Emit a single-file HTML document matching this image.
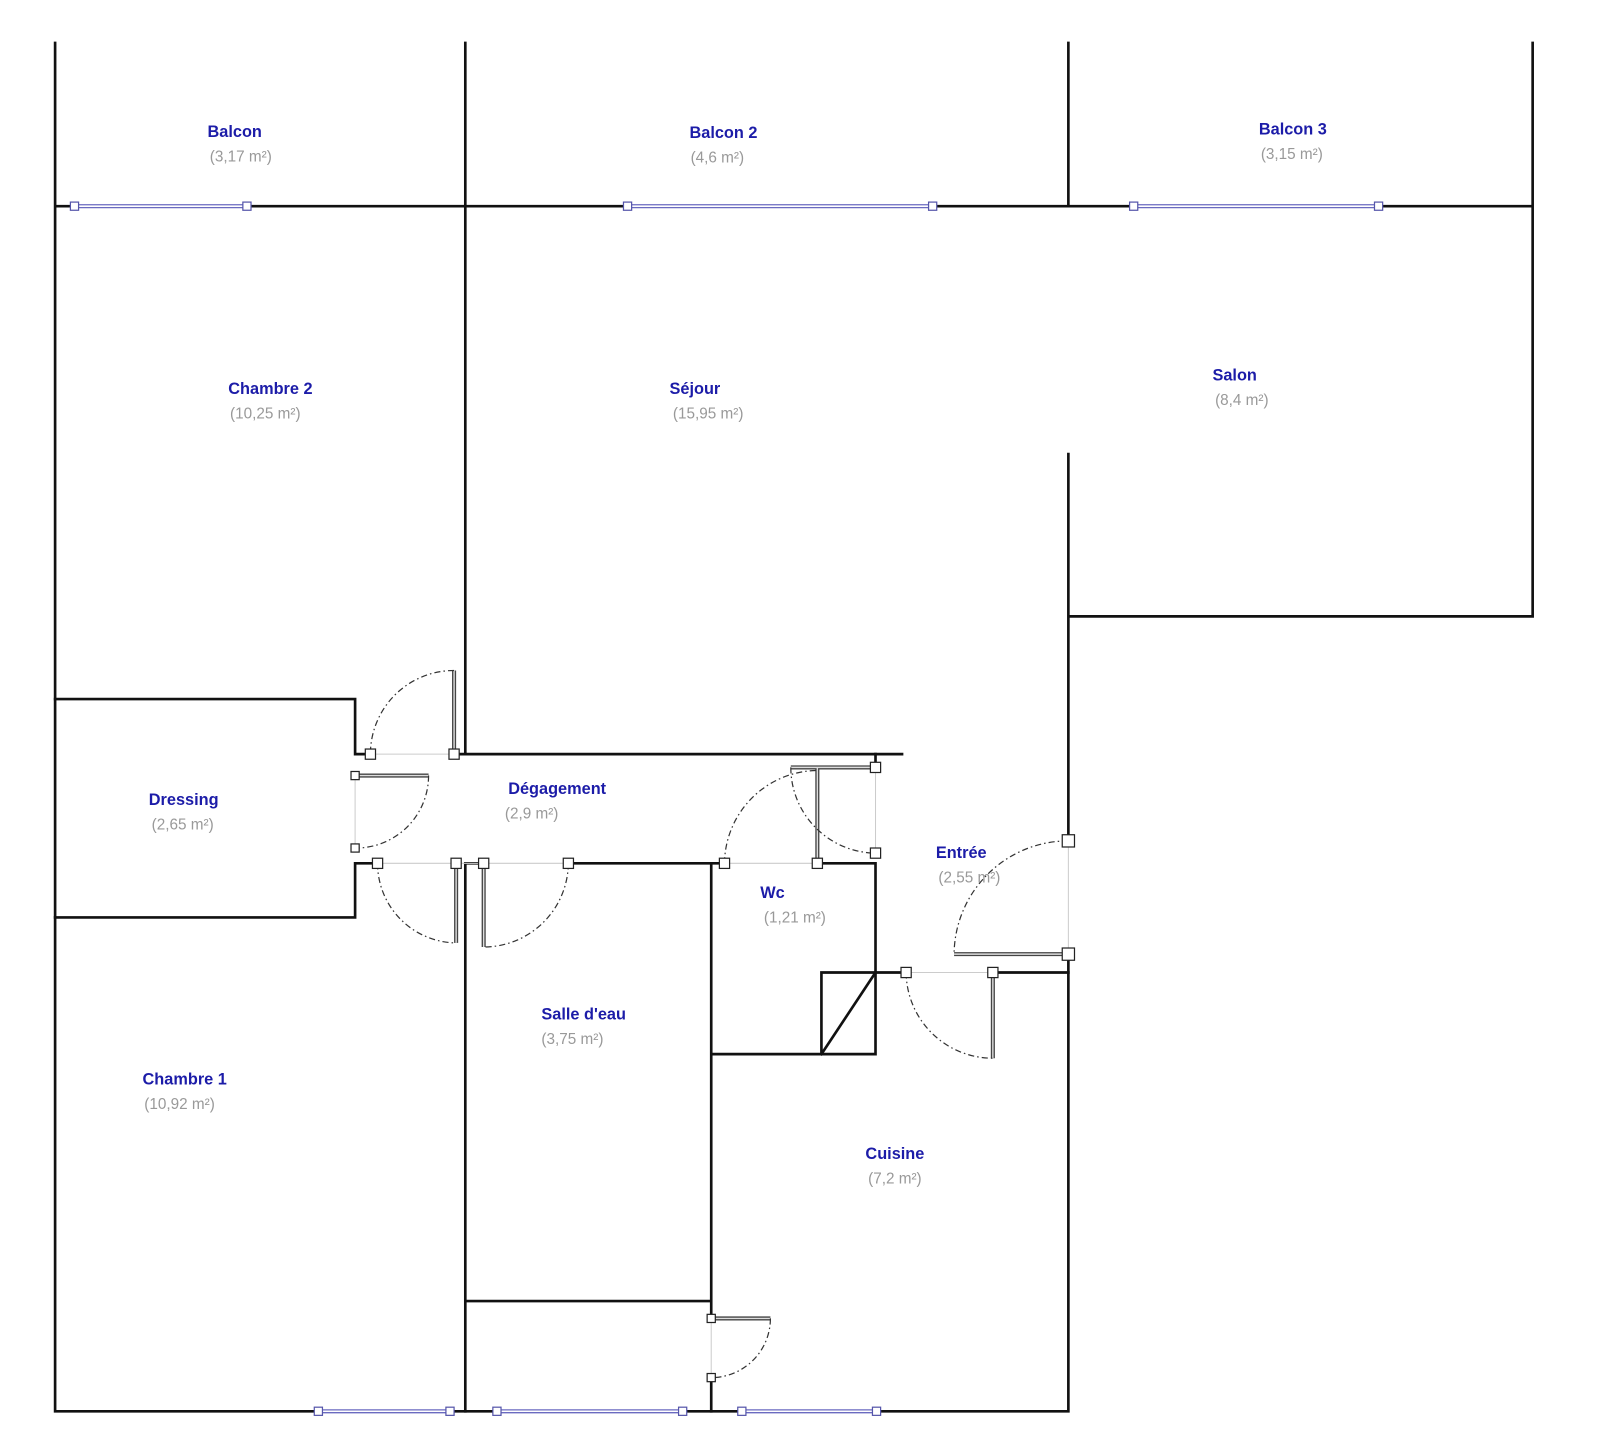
<!DOCTYPE html>
<html><head><meta charset="utf-8"><style>
html,body{margin:0;padding:0;background:#fff;}
svg{display:block;}
.w{stroke:#111;stroke-width:2.6;fill:none;stroke-linecap:square}
.t{font-family:"Liberation Sans",sans-serif;font-weight:bold;font-size:16px;fill:#1c1ca8;text-anchor:middle}
.a{font-family:"Liberation Sans",sans-serif;font-size:15px;fill:#999;text-anchor:middle}
.arc{stroke:#333;stroke-width:1.2;fill:none;stroke-dasharray:6 3 1.5 3}
.th{stroke:#ccc;stroke-width:1;fill:none}
.sq{fill:#fff;stroke:#222;stroke-width:1.2}
.bq{fill:#fff;stroke:#55a;stroke-width:1.2}
.win{stroke:#6a6ac0;stroke-width:4;fill:none}
.win2{stroke:#fff;stroke-width:1.5;fill:none}
.leaf{stroke:#444;stroke-width:4;fill:none}
.leaf2{stroke:#ddd;stroke-width:1.4;fill:none}
</style></head><body>
<svg width="1600" height="1445" viewBox="0 0 1568 1416" xmlns="http://www.w3.org/2000/svg">
<!-- walls -->
<path class="w" d="M54 42 V1383 H1047 M456 42 V739 H884 M1047 42 V202 M1502 42 V604 H1047 M54 202 H1502 M1047 445 V824 M1047 935 V1383"/>
<path class="w" d="M54 685 H348 V739 M348 846 V899 H54 M348 739 H363 M445 739 H456 M348 846 H370 M456 846 H474 M456 846 V1383 M557 846 H710 M801 846 H858 V1033 H697 M697 846 V1292 M697 1350 V1383 M456 1275 H697 M858 739 V752 M858 953 H888 M973 953 H1047"/>
<path class="w" d="M805 1033 V953 H858 M805 1033 L858 953"/>
<!-- thresholds -->
<path class="th" d="M363 739 H445 M348 760 V831 M370 846 H557 M710 846 H801 M858 752 V836 M888 953 H973 M1047 824 V935 M697 1292 V1350"/>
<!-- windows -->
<path class="win" d="M73 202 H242 M615 202 H914 M1111 202 H1351 M312 1383 H441 M487 1383 H669 M727 1383 H859"/>
<path class="win2" d="M73 202 H242 M615 202 H914 M1111 202 H1351 M312 1383 H441 M487 1383 H669 M727 1383 H859"/>
<!-- door leaves -->
<path class="leaf" d="M445 657 V739 M348 760 H420 M447 846 V924 M474 846 V928 M801 752 V846 M775 752 H858 M973 953 V1037 M935 935 H1047 M697 1292 H755"/>
<path class="leaf2" d="M445 657 V739 M348 760 H420 M447 846 V924 M474 846 V928 M801 752 V846 M775 752 H858 M973 953 V1037 M935 935 H1047 M697 1292 H755"/>
<!-- arcs -->
<path class="arc" d="M445 657 A82 82 0 0 0 363 739"/>
<path class="arc" d="M420 760 A71 71 0 0 1 348 831"/>
<path class="arc" d="M370 846 A78 78 0 0 0 447 924"/>
<path class="arc" d="M557 846 A83 83 0 0 1 474 928"/>
<path class="arc" d="M710 846 A92 92 0 0 1 801 755"/>
<path class="arc" d="M775 752 A84 84 0 0 0 858 836"/>
<path class="arc" d="M888 953 A85 85 0 0 0 973 1037"/>
<path class="arc" d="M1047 824 A112 112 0 0 0 935 935"/>
<path class="arc" d="M755 1292 A58 58 0 0 1 697 1350"/>
<!-- squares -->
<g class="bq">
<rect x="69" y="198" width="8" height="8"/><rect x="238" y="198" width="8" height="8"/>
<rect x="611" y="198" width="8" height="8"/><rect x="910" y="198" width="8" height="8"/>
<rect x="1107" y="198" width="8" height="8"/><rect x="1347" y="198" width="8" height="8"/>
<rect x="308" y="1379" width="8" height="8"/><rect x="437" y="1379" width="8" height="8"/>
<rect x="483" y="1379" width="8" height="8"/><rect x="665" y="1379" width="8" height="8"/>
<rect x="723" y="1379" width="8" height="8"/><rect x="855" y="1379" width="8" height="8"/>
</g>
<g class="sq">
<rect x="358" y="734" width="10" height="10"/><rect x="440" y="734" width="10" height="10"/>
<rect x="344" y="756" width="8" height="8"/><rect x="344" y="827" width="8" height="8"/>
<rect x="365" y="841" width="10" height="10"/><rect x="442" y="841" width="10" height="10"/>
<rect x="469" y="841" width="10" height="10"/><rect x="552" y="841" width="10" height="10"/>
<rect x="705" y="841" width="10" height="10"/><rect x="796" y="841" width="10" height="10"/>
<rect x="853" y="747" width="10" height="10"/><rect x="853" y="831" width="10" height="10"/>
<rect x="883" y="948" width="10" height="10"/><rect x="968" y="948" width="10" height="10"/>
<rect x="1041" y="818" width="12" height="12"/><rect x="1041" y="929" width="12" height="12"/>
<rect x="693" y="1288" width="8" height="8"/><rect x="693" y="1346" width="8" height="8"/>
</g>
<!-- labels -->
<g>
<text class="t" x="230" y="134">Balcon</text><text class="a" x="236" y="158">(3,17 m²)</text>
<text class="t" x="709" y="135">Balcon 2</text><text class="a" x="703" y="159">(4,6 m²)</text>
<text class="t" x="1267" y="132">Balcon 3</text><text class="a" x="1266" y="156">(3,15 m²)</text>
<text class="t" x="265" y="386">Chambre 2</text><text class="a" x="260" y="410">(10,25 m²)</text>
<text class="t" x="681" y="386">Séjour</text><text class="a" x="694" y="410">(15,95 m²)</text>
<text class="t" x="1210" y="373">Salon</text><text class="a" x="1217" y="397">(8,4 m²)</text>
<text class="t" x="180" y="789">Dressing</text><text class="a" x="179" y="813">(2,65 m²)</text>
<text class="t" x="546" y="778">Dégagement</text><text class="a" x="521" y="802">(2,9 m²)</text>
<text class="t" x="757" y="880">Wc</text><text class="a" x="779" y="904">(1,21 m²)</text>
<text class="t" x="942" y="841">Entrée</text><text class="a" x="950" y="865">(2,55 m²)</text>
<text class="t" x="572" y="999">Salle d'eau</text><text class="a" x="561" y="1023">(3,75 m²)</text>
<text class="t" x="181" y="1063">Chambre 1</text><text class="a" x="176" y="1087">(10,92 m²)</text>
<text class="t" x="877" y="1136">Cuisine</text><text class="a" x="877" y="1160">(7,2 m²)</text>
</g>
</svg>
</body></html>
